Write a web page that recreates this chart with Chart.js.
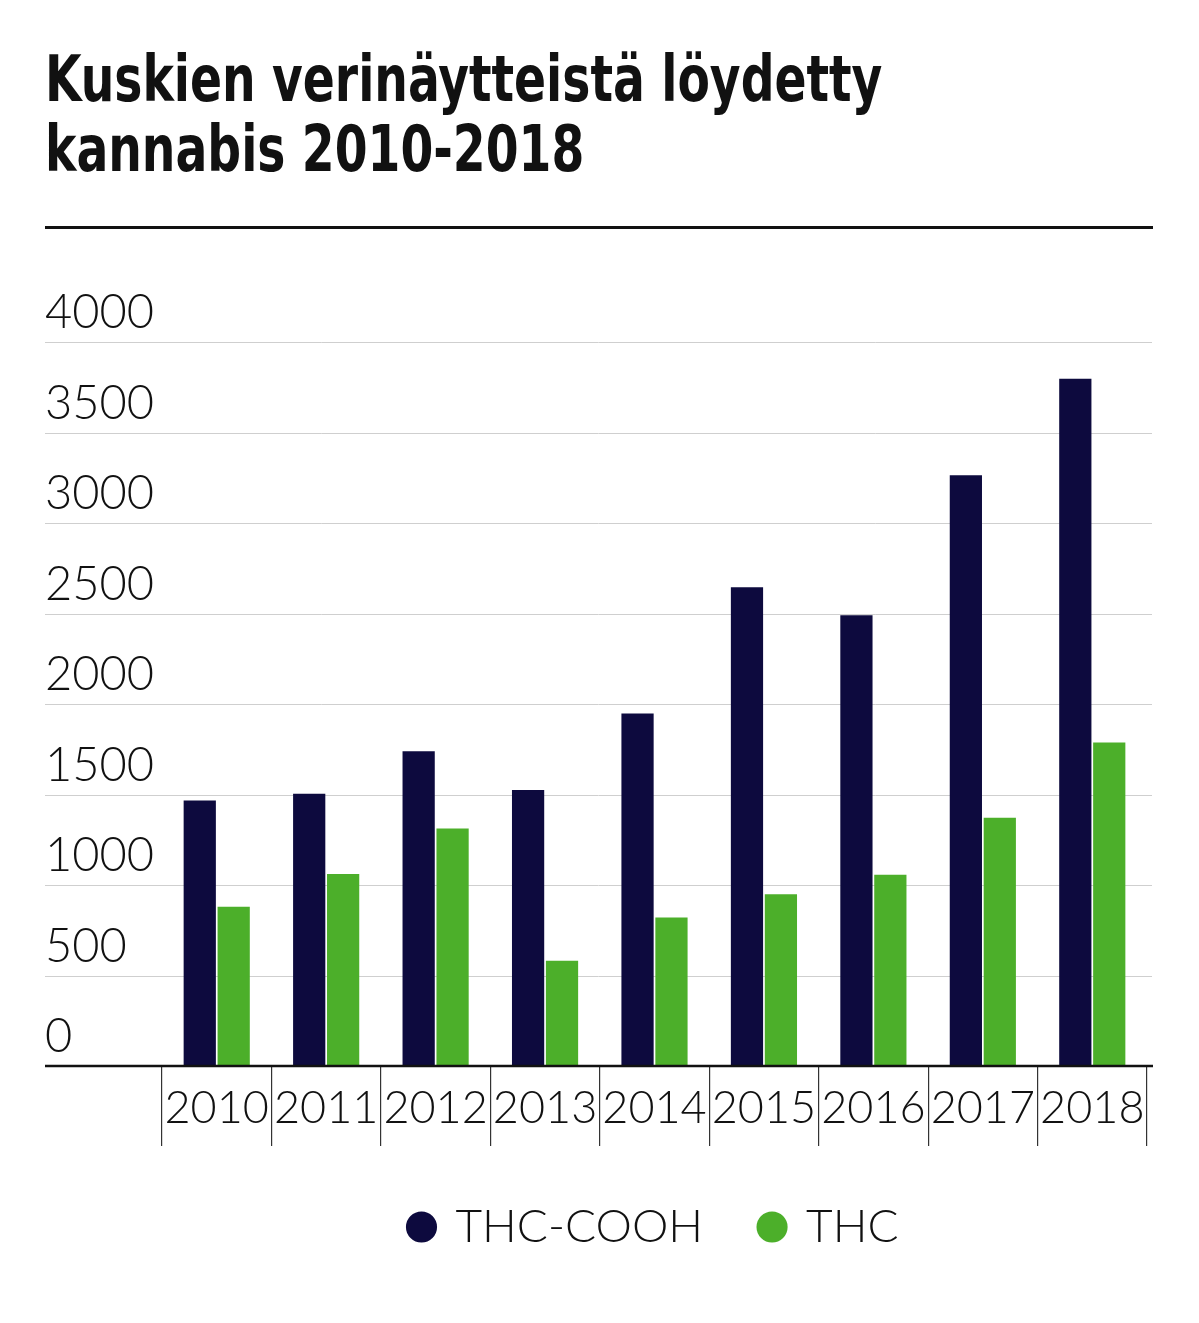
<!DOCTYPE html>
<html><head><meta charset="utf-8">
<script src="https://cdn.jsdelivr.net/npm/chart.js@4"></script>
<style>
html,body{margin:0;padding:0;background:#fff;width:1199px;height:1323px;overflow:hidden}
#t{position:absolute;left:45px;top:44px;font-family:"Liberation Sans Narrow","DejaVu Sans Condensed","DejaVu Sans",sans-serif;font-weight:bold;font-size:64px;line-height:70px;color:#111;margin:0;transform:scaleX(0.82);transform-origin:0 0;white-space:nowrap}
#rule{position:absolute;left:45px;top:226px;width:1108px;height:3px;background:#111}
#w{position:absolute;left:0;top:0;width:1199px;height:1323px}
</style></head><body>
<div id="w"><canvas id="c"></canvas></div>
<h1 id="t">Kuskien verinäytteistä löydetty<br>kannabis 2010-2018</h1>
<div id="rule"></div>
<script>
const years = ["2010","2011","2012","2013","2014","2015","2016","2017","2018"];
const thcCooh = [1467,1504,1739,1525,1947,2645,2491,3264,3797];
const thc = [880,1061,1312,581,821,949,1056,1371,1787];
const yTicks = [0,500,1000,1500,2000,2500,3000,3500,4000];

const axPlugin = {
  id:'ap',
  beforeDatasetsDraw(chart){
    const c=chart.ctx, y=chart.scales.y;
    c.save();
    c.font='300 47px Lato';
    c.textAlign='left';c.textBaseline='alphabetic';
    yTicks.forEach(v=>{
      const py=Math.round(y.getPixelForValue(v))+0.5;
      if(v>0){c.strokeStyle='#cfcfcf';c.lineWidth=1;c.beginPath();c.moveTo(45,py);c.lineTo(1152,py);c.stroke();}
      c.fillStyle='#111';c.fillText(String(v),45,py-15);
    });
    c.restore();
  },
  afterDatasetsDraw(chart){
    const c=chart.ctx, y=chart.scales.y, x=chart.scales.x;
    const py=y.getPixelForValue(0);
    c.save();c.strokeStyle='#111';c.lineWidth=2.5;c.beginPath();c.moveTo(45,py);c.lineTo(1153,py);c.stroke();
    c.font='300 45px Lato';c.textAlign='center';c.textBaseline='middle';c.fillStyle='#111';
    years.forEach((l,i)=>c.fillText(l,x.getPixelForValue(i),py+42));
    c.restore();
  }
};

new Chart(document.getElementById('c'),{
  type:'bar',
  data:{labels:years,datasets:[
    {label:'THC-COOH',data:thcCooh,backgroundColor:'#0d0a3e'},
    {label:'THC',data:thc,backgroundColor:'#4caf2a'}
  ]},
  options:{
    responsive:true,maintainAspectRatio:false,animation:false,
    layout:{padding:{left:162,right:52,top:342,bottom:63}},
    datasets:{bar:{categoryPercentage:0.62,barPercentage:0.95}},
    plugins:{
      tooltip:{enabled:false},
      legend:{position:'bottom',labels:{usePointStyle:true,pointStyle:'circle',boxWidth:22,boxHeight:22,padding:58,color:'#111',font:{family:'Lato',size:46,weight:'300'}}}
    },
    scales:{
      y:{display:false,min:0,max:4000},
      x:{
        border:{display:false},
        grid:{offset:true,drawOnChartArea:false,drawTicks:true,tickLength:80,color:'#333',lineWidth:1.2},
        ticks:{display:false}
      }
    }
  },
  plugins:[axPlugin]
});
</script>
</body></html>
